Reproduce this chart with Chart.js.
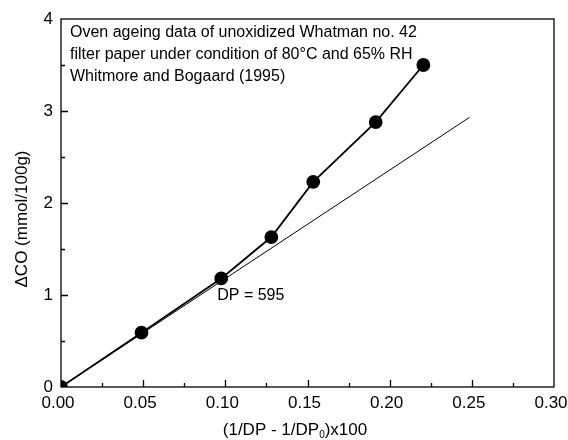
<!DOCTYPE html>
<html>
<head>
<meta charset="utf-8">
<script src="https://cdn.jsdelivr.net/npm/chart.js@4"></script>
<style>
  html, body { margin: 0; padding: 0; background: #fff; }
  #wrap { width: 568px; height: 440px; }
</style>
</head>
<body>
<div id="wrap"><canvas id="c"></canvas></div>
<script>
const dpX = [0, 0.049, 0.0975, 0.128, 0.1535, 0.1915, 0.2205];
const dcoY = [0, 0.59, 1.18, 1.63, 2.23, 2.88, 3.50];
// initial linear trend
const lineX = [0, 0.2485];
const lineY = [0, 2.93];
const xTicks = [0, 0.05, 0.10, 0.15, 0.20, 0.25, 0.30];
const yTicks = [0, 1, 2, 3, 4];
const noteLines = [
  'Oven ageing data of unoxidized Whatman no. 42',
  'filter paper under condition of 80\u00B0C and 65% RH',
  'Whitmore and Bogaard (1995)'
];

const FONT = '"Liberation Sans", Arial, Helvetica, sans-serif';

const frame = {
  id: 'frame',
  afterDraw(chart) {
    const ctx = chart.ctx;
    const a = chart.chartArea;
    const xs = chart.scales.x, ys = chart.scales.y;
    ctx.save();
    ctx.strokeStyle = '#000';
    ctx.lineWidth = 1.3;
    ctx.strokeRect(a.left, a.top, a.right - a.left, a.bottom - a.top);
    // inward ticks
    ctx.beginPath();
    for (let v = 0.025; v < 0.3; v += 0.025) {
      const major = Math.abs(v / 0.05 - Math.round(v / 0.05)) < 1e-6;
      const px = Math.round(xs.getPixelForValue(v)) + 0.5;
      ctx.moveTo(px, a.bottom);
      ctx.lineTo(px, a.bottom - (major ? 7 : 4));
    }
    for (let v = 0.5; v < 4; v += 0.5) {
      const major = Math.abs(v - Math.round(v)) < 1e-6;
      const py = Math.round(ys.getPixelForValue(v)) + 0.5;
      ctx.moveTo(a.left, py);
      ctx.lineTo(a.left + (major ? 7 : 4), py);
    }
    ctx.stroke();

    ctx.fillStyle = '#000';
    ctx.textBaseline = 'middle';
    ctx.textAlign = 'left';
    ctx.font = '16px ' + FONT;
    noteLines.forEach((t, i) => ctx.fillText(t, a.left + 9, 33 + i * 22));

    // DP label next to third point
    ctx.fillText('DP = 595', xs.getPixelForValue(dpX[2]) - 4, ys.getPixelForValue(dcoY[2]) + 17);

    // x title with subscript
    const parts = [['(1/DP - 1/DP', 17, 0], ['0', 10, 5], [')x100', 17, 0]];
    let w = 0;
    parts.forEach(p => { ctx.font = p[1] + 'px ' + FONT; w += ctx.measureText(p[0]).width; });
    let x = 295 - w / 2;
    const y = 430;
    parts.forEach(p => {
      ctx.font = p[1] + 'px ' + FONT;
      ctx.fillText(p[0], x, y + p[2]);
      x += ctx.measureText(p[0]).width;
    });

    // y title
    ctx.font = '17px ' + FONT;
    ctx.translate(22, 219);
    ctx.rotate(-Math.PI / 2);
    ctx.textAlign = 'center';
    ctx.fillText('\u0394CO (mmol/100g)', 0, 0);
    ctx.restore();
  }
};

new Chart(document.getElementById('c'), {
  type: 'scatter',
  data: {
    datasets: [
      {
        data: dpX.map((v, i) => ({ x: v, y: dcoY[i] })),
        showLine: true,
        borderColor: '#000',
        backgroundColor: '#000',
        borderWidth: 1.8,
        pointRadius: 6,
        pointHoverRadius: 6,
        clip: 0
      },
      {
        data: lineX.map((v, i) => ({ x: v, y: lineY[i] })),
        showLine: true,
        borderColor: '#000',
        borderWidth: 1,
        pointRadius: 0
      }
    ]
  },
  options: {
    responsive: true,
    maintainAspectRatio: false,
    animation: false,
    layout: { padding: { top: 19, right: 14, left: 0, bottom: 0 } },
    plugins: { legend: { display: false }, tooltip: { enabled: false } },
    scales: {
      x: {
        type: 'linear',
        min: 0, max: 0.3,
        afterBuildTicks: s => { s.ticks = xTicks.map(v => ({ value: v })); },
        afterFit: s => { s.height = 53; s.paddingLeft = 0; s.paddingRight = 0; },
        grid: { display: false, drawTicks: false },
        border: { display: false },
        ticks: {
          color: '#000',
          padding: 6,
          labelOffset: -3,
          font: { family: FONT, size: 17 },
          callback: v => v.toFixed(2),
          maxRotation: 0
        }
      },
      y: {
        type: 'linear',
        min: 0, max: 4,
        afterBuildTicks: s => { s.ticks = yTicks.map(v => ({ value: v })); },
        afterFit: s => { s.width = 61; s.paddingTop = 0; s.paddingBottom = 0; },
        grid: { display: false, drawTicks: false },
        border: { display: false },
        ticks: {
          color: '#000',
          padding: 8,
          font: { family: FONT, size: 17 },
          callback: v => String(v)
        }
      }
    }
  },
  plugins: [frame]
});
</script>
</body>
</html>
